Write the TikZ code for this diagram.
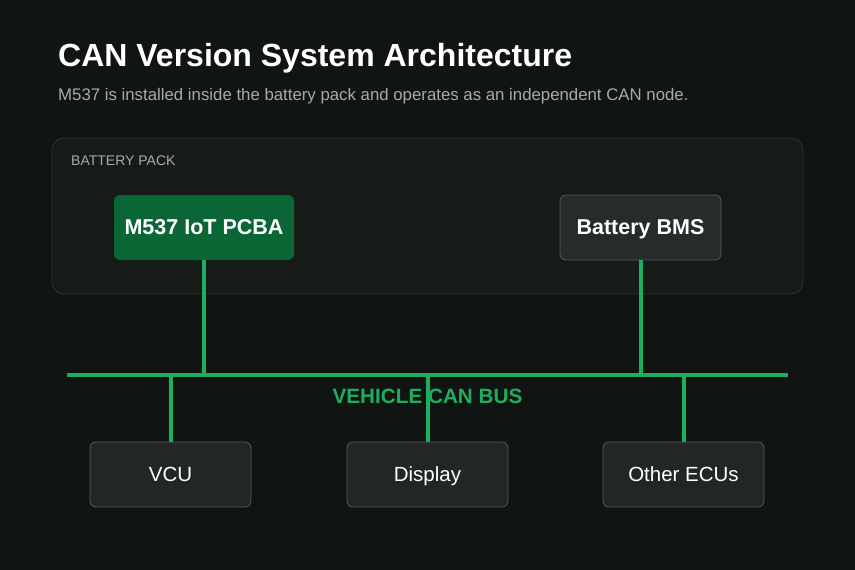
\documentclass[tikz,border=0pt]{standalone}
\usepackage{fontspec}
\setmainfont{Liberation Sans}
\definecolor{bg}{HTML}{101412}
\definecolor{pack}{HTML}{161B18}
\definecolor{packb}{HTML}{30362F}
\definecolor{grn}{HTML}{1FAE5E}
\definecolor{mgrn}{HTML}{0B6636}
\definecolor{boxf}{HTML}{222725}
\definecolor{bmsf}{HTML}{262C29}
\definecolor{boxb}{HTML}{555C58}
\definecolor{sub}{HTML}{A6ACA8}
\begin{document}
\begin{tikzpicture}[x=1pt,y=-1pt,
  box/.style={draw=boxb,line width=0.8pt,fill=boxf,rounded corners=6pt,minimum width=161pt,minimum height=65pt,text=white,font=\fontsize{20.5}{24}\selectfont,inner sep=0pt,text height=14pt,text depth=1pt},
  bus/.style={grn,line width=4pt}]
\useasboundingbox[fill=bg] (0,0) rectangle (855,570);
\node[anchor=base west,text=white,font=\bfseries\fontsize{32}{38}\selectfont,inner sep=0pt] (title) at (58,66) {CAN Version System Architecture};
\node[anchor=base west,text=sub,font=\fontsize{16.8}{20}\selectfont,inner sep=0pt] (subt) at (58,100) {M537 is installed inside the battery pack and operates as an independent CAN node.};
\node[draw=packb,line width=0.8pt,fill=pack,rounded corners=12pt,minimum width=751pt,minimum height=156pt,inner sep=0pt] (pack) at (427.5,216) {};
\node[anchor=base west,text=sub,font=\fontsize{14}{16}\selectfont,inner sep=0pt] (packl) at (71,165) {BATTERY PACK};
\node[box,draw=none,fill=mgrn,minimum width=180pt,font=\bfseries\fontsize{21.5}{25}\selectfont] (m537) at (204,227.5) {M537 IoT PCBA};
\node[box,fill=bmsf,font=\bfseries\fontsize{21.5}{25}\selectfont] (bms) at (640.5,227.5) {Battery BMS};
\coordinate (bl) at (67,375); \coordinate (br) at (788,375);
\draw[bus,line cap=butt] (bl) -- (br);
\node[box] (vcu) at (170.5,474.5) {VCU};
\node[box] (disp) at (427.5,474.5) {Display};
\node[box] (oth) at (683.5,474.5) {Other ECUs};
\draw[bus] (m537.south) -- (m537.south |- bl);
\draw[bus] (bms.south) -- (bms.south |- bl);
\draw[bus] (vcu.north) -- (vcu.north |- bl);
\draw[bus] (disp.north) -- (disp.north |- bl);
\draw[bus] (oth.north) -- (oth.north |- bl);
\node[text=grn,font=\bfseries\fontsize{20.7}{24}\selectfont,inner sep=0pt] (busl) at (427.5,396) {VEHICLE CAN BUS};
\end{tikzpicture}
\end{document}
